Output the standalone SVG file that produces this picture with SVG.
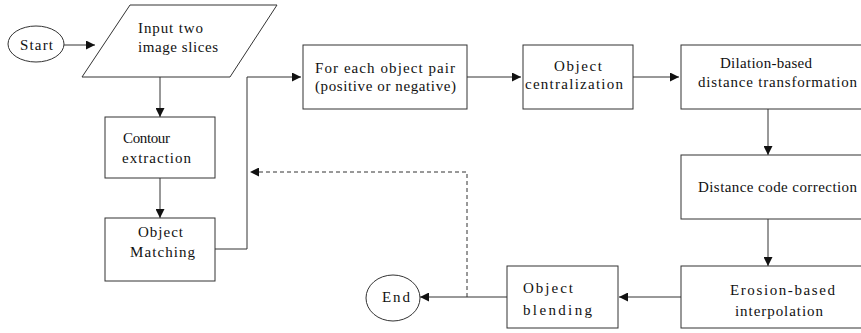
<svg xmlns="http://www.w3.org/2000/svg" width="861" height="333" viewBox="0 0 861 333">
<style>
.n{fill:#fff;stroke:#333;stroke-width:1}
.t{font-family:"Liberation Serif","Times New Roman",serif;font-size:15px;fill:#111}
.c{fill:none;stroke:#333;stroke-width:1}
.d{fill:none;stroke:#333;stroke-width:1;stroke-dasharray:4,3}
</style>
<defs>
<marker id="ah" viewBox="0 0 10 10" refX="10" refY="5" markerWidth="9" markerHeight="9" markerUnits="userSpaceOnUse" orient="auto">
<path d="M0,0 L10,5 L0,10 Z" fill="#111"/>
</marker>
</defs>
<rect width="861" height="333" fill="#fff"/>
<g id="connectors">
<line class="c" x1="64" y1="45" x2="95" y2="45" marker-end="url(#ah)"/>
<line class="c" x1="160" y1="77" x2="160" y2="117" marker-end="url(#ah)"/>
<line class="c" x1="160" y1="178" x2="160" y2="218" marker-end="url(#ah)"/>
<polyline class="c" points="215,249 247,249 247,77 301,77" marker-end="url(#ah)"/>
<polyline class="d" points="467,297 467,172 250,172" marker-end="url(#ah)"/>
<line class="c" x1="467" y1="77" x2="521" y2="77" marker-end="url(#ah)"/>
<line class="c" x1="633" y1="77" x2="679" y2="77" marker-end="url(#ah)"/>
<line class="c" x1="768" y1="109" x2="768" y2="155" marker-end="url(#ah)"/>
<line class="c" x1="768" y1="219" x2="768" y2="266" marker-end="url(#ah)"/>
<line class="c" x1="681" y1="297" x2="619" y2="297" marker-end="url(#ah)"/>
<line class="c" x1="507" y1="297" x2="420" y2="297" marker-end="url(#ah)"/>
</g>
<g id="start">
<ellipse class="n" cx="36" cy="44" rx="28" ry="18"/>
<text class="t" x="20" y="50" textLength="33" lengthAdjust="spacing">Start</text>
</g>
<g id="input">
<polygon class="n" points="130,5 277,5 230,77 82,77"/>
<text class="t" x="138" y="33" textLength="65" lengthAdjust="spacing">Input two</text>
<text class="t" x="138" y="52" textLength="80" lengthAdjust="spacing">image slices</text>
</g>
<g id="contour">
<rect class="n" x="105" y="117" width="110" height="61"/>
<text class="t" x="123" y="143" textLength="47" lengthAdjust="spacing">Contour</text>
<text class="t" x="122" y="163" textLength="69" lengthAdjust="spacing">extraction</text>
</g>
<g id="matching">
<rect class="n" x="105" y="218" width="110" height="63"/>
<text class="t" x="138" y="237" textLength="45" lengthAdjust="spacing">Object</text>
<text class="t" x="130" y="257" textLength="65" lengthAdjust="spacing">Matching</text>
</g>
<g id="foreach">
<rect class="n" x="303" y="45" width="164" height="64"/>
<text class="t" x="315" y="73" textLength="140" lengthAdjust="spacing">For each object pair</text>
<text class="t" x="315" y="91" textLength="141" lengthAdjust="spacing">(positive or  negative)</text>
</g>
<g id="centralization">
<rect class="n" x="523" y="45" width="110" height="64"/>
<text class="t" x="554" y="71" textLength="48" lengthAdjust="spacing">Object</text>
<text class="t" x="525" y="89" textLength="98" lengthAdjust="spacing">centralization</text>
</g>
<g id="dilation">
<rect class="n" x="681" y="45" width="190" height="64"/>
<text class="t" x="720" y="68" textLength="92" lengthAdjust="spacing">Dilation-based</text>
<text class="t" x="698" y="87" textLength="159" lengthAdjust="spacing">distance transformation</text>
</g>
<g id="distance">
<rect class="n" x="681" y="155" width="190" height="64"/>
<text class="t" x="698" y="192" textLength="159" lengthAdjust="spacing">Distance code correction</text>
</g>
<g id="erosion">
<rect class="n" x="681" y="266" width="190" height="62"/>
<text class="t" x="730" y="295" textLength="105" lengthAdjust="spacing">Erosion-based</text>
<text class="t" x="735" y="316" textLength="88" lengthAdjust="spacing">interpolation</text>
</g>
<g id="blending">
<rect class="n" x="507" y="266" width="111" height="62"/>
<text class="t" x="523" y="293" textLength="50" lengthAdjust="spacing">Object</text>
<text class="t" x="523" y="315" textLength="69" lengthAdjust="spacing">blending</text>
</g>
<g id="end">
<ellipse class="n" cx="393" cy="298" rx="27" ry="23"/>
<text class="t" x="382" y="302" textLength="28" lengthAdjust="spacing">End</text>
</g>
</svg>
